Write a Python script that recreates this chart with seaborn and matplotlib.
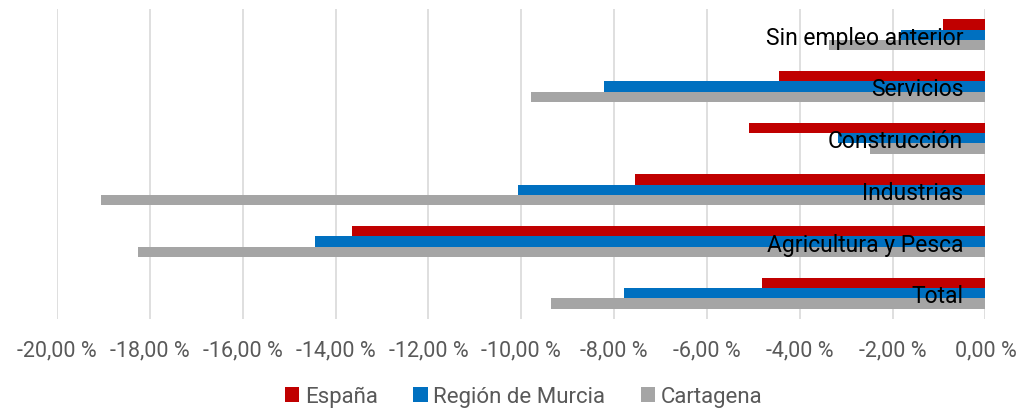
import matplotlib
matplotlib.use("Agg")
import matplotlib.pyplot as plt
from matplotlib.ticker import FuncFormatter
import pandas as pd
import seaborn as sns

# Variacion del paro por sector (%)
categories = ["Sin empleo anterior", "Servicios", "Construcción",
              "Industrias", "Agricultura y Pesca", "Total"]
series = ["España", "Región de Murcia", "Cartagena"]
espana = [-0.92, -4.45, -5.10, -7.54, -13.65, -4.81]
murcia = [-1.83, -8.22, -3.17, -10.07, -14.44, -7.79]
cartagena = [-3.36, -9.78, -2.49, -19.05, -18.25, -9.35]
x_ticks = [-20, -18, -16, -14, -12, -10, -8, -6, -4, -2, 0]

colors = ["#C00000", "#0070C0", "#A5A5A5"]

df = pd.DataFrame({
    "categoria": categories * 3,
    "serie": [s for s in series for _ in categories],
    "valor": espana + murcia + cartagena,
})

sns.set_style("white")
plt.rcParams["font.family"] = ["Roboto", "DejaVu Sans"]

fig = plt.figure(figsize=(10.21, 4.14), dpi=100)
ax = fig.add_axes([0.0558, 0.227, 0.9094, 0.749])

sns.barplot(data=df, x="valor", y="categoria", hue="serie",
            order=categories, hue_order=series, palette=colors,
            orient="h", width=0.6, saturation=1, linewidth=0,
            ax=ax, legend=True)

ax.set_xlim(-20, 0)
ax.set_ylim(len(categories) - 0.5, -0.5)
ax.set_xticks(x_ticks)
ax.xaxis.set_major_formatter(FuncFormatter(lambda v, p: f"{v:.2f} %".replace(".", ",")))
ax.grid(axis="x", color="#D9D9D9", linewidth=1.2)
ax.set_axisbelow(True)
for s in ax.spines.values():
    s.set_visible(False)
ax.tick_params(axis="x", length=0, pad=15, labelsize=15.5, labelcolor="#595959")
ax.set_yticks([])
ax.set_xlabel("")
ax.set_ylabel("")

# category labels drawn next to the zero axis
for i, cat in enumerate(categories):
    ax.text(-0.48, i, cat, ha="right", va="center_baseline", fontsize=16.5,
            color="black")

handles, labels = ax.get_legend_handles_labels()
ax.get_legend().remove()
fig.legend(handles, labels, loc="lower center", ncol=3, frameon=False,
           bbox_to_anchor=(0.513, -0.035), fontsize=16, labelcolor="#595959",
           handlelength=0.65, handleheight=0.65, handletextpad=0.25,
           columnspacing=1.6)

plt.savefig("out.png", dpi=100)
plt.close()
